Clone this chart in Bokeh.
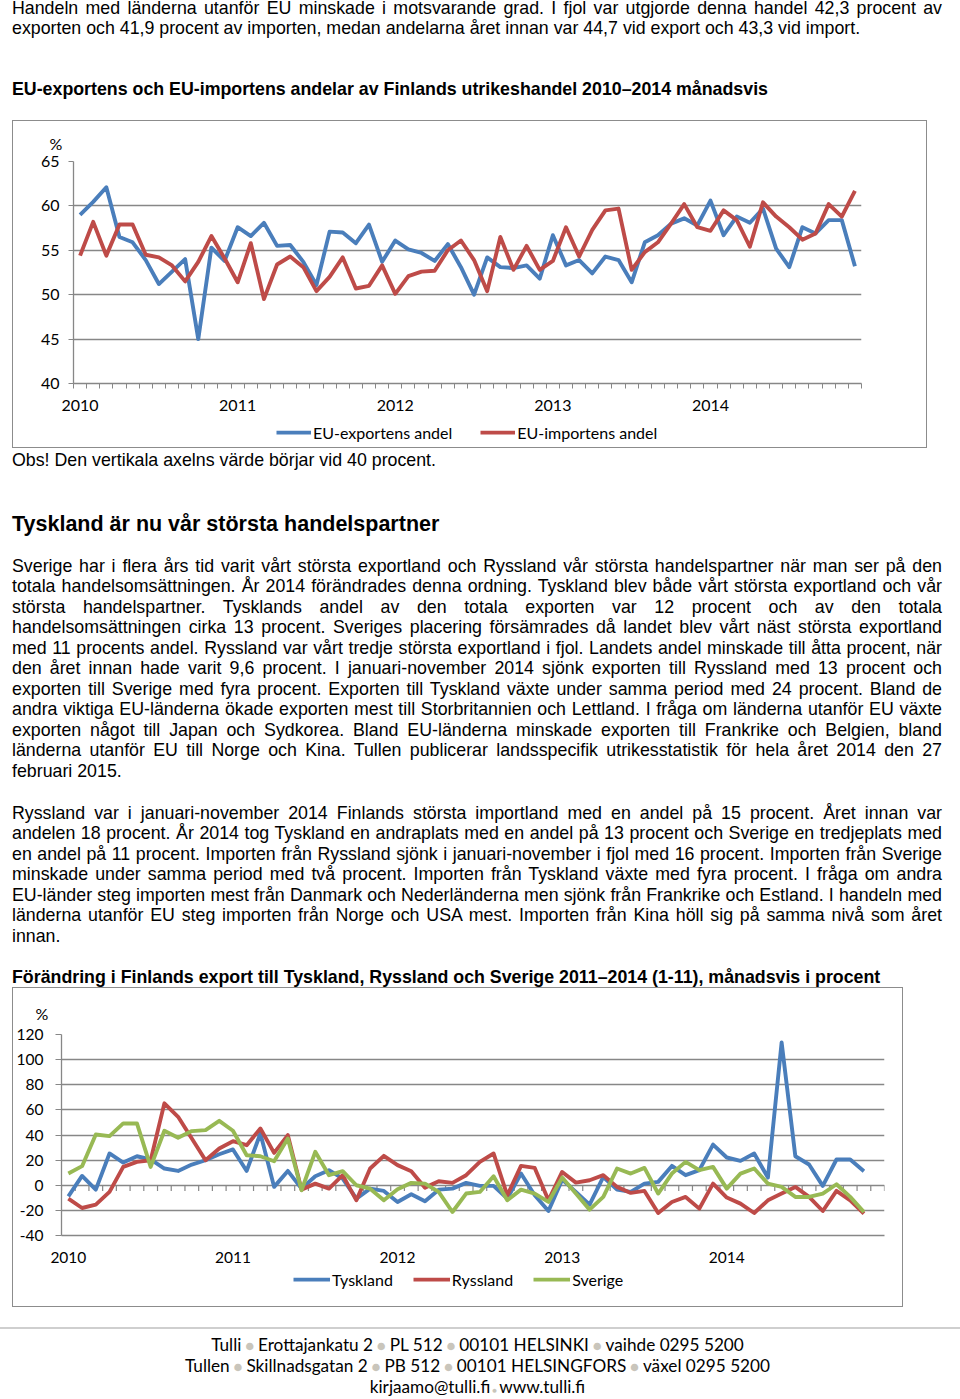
from bokeh.plotting import figure
from bokeh.models import Range1d, FixedTicker, Legend, LegendItem, Div
from bokeh.layouts import column
from bokeh.embed import file_html
from bokeh.resources import INLINE

# ---------------- data ----------------
years = ["2010", "2011", "2012", "2013", "2014"]
months1 = list(range(60))          # Jan 2010 .. Dec 2014
eu_export = [59.0, 60.45, 62.1, 56.5, 55.9, 53.9, 51.2, 52.6, 54.0, 45.0,
             55.3, 53.8, 57.6, 56.6, 58.1, 55.5, 55.6, 53.7, 51.1, 57.1,
             57.0, 55.8, 57.9, 53.7, 56.1, 55.1, 54.7, 53.8, 55.7, 53.1,
             50.0, 54.2, 53.1, 53.0, 53.3, 51.8, 56.7, 53.3, 53.9, 52.4,
             54.3, 53.9, 51.4, 55.9, 56.7, 58.0, 58.6, 57.8, 60.6, 56.7,
             58.8, 58.1, 59.7, 55.2, 53.1, 57.6, 56.9, 58.4, 58.4, 53.2]
eu_import = [54.4, 58.2, 54.4, 57.9, 57.9, 54.5, 54.2, 53.3, 51.5, 53.7,
             56.6, 54.1, 51.4, 55.8, 49.5, 53.4, 54.3, 53.1, 50.4, 52.0,
             54.2, 50.7, 51.0, 53.3, 50.1, 52.1, 52.6, 52.7, 55.0, 56.1,
             53.9, 50.4, 56.5, 52.8, 55.5, 52.8, 53.8, 57.6, 54.3, 57.3,
             59.5, 59.7, 52.8, 54.8, 55.9, 58.0, 60.2, 57.6, 57.2, 59.5,
             58.4, 55.4, 60.4, 58.8, 57.6, 56.2, 56.9, 60.2, 58.8, 61.7]

months2 = list(range(59))          # Jan 2010 .. Nov 2014
tyskland = [-8.8, 7.4, -3.5, 25.3, 18.1, 23.1, 20.5, 13.3, 11.4, 16.5,
            19.9, 24.7, 28.5, 11.4, 41.2, -1.3, 11.4, -2.7, 7.2, 12.0,
            5.3, -10.6, -2.7, -4.5, -13.3, -7.2, -12.8, -3.5, -2.7, 1.9,
            -0.5, -0.5, -10.6, 9.3, -8.0, -20.5, 4.5, -5.3, -15.4, 6.6,
            -3.5, -5.3, 1.3, 2.7, 15.4, 8.0, 12.0, 32.4, 22.1, 19.4,
            25.3, 6.1, 113.6, 23.1, 16.5, -0.5, 20.5, 20.5, 11.2]
ryssland = [-10.6, -18.1, -15.4, -5.3, 14.6, 18.6, 19.9, 65.2, 54.5, 37.2,
            19.9, 29.3, 35.1, 31.9, 45.2, 25.8, 39.9, -3.5, 1.3, -2.7,
            8.0, -12.0, 13.3, 23.4, 16.0, 11.2, -1.9, 3.2, 1.9, 8.0,
            18.6, 25.3, -8.0, 15.4, 13.8, -12.0, 10.6, 2.1, 4.0, 8.0,
            -1.3, -6.1, -4.5, -22.1, -13.3, -9.3, -18.6, 1.3, -9.8, -14.6,
            -22.1, -12.0, -6.6, -1.3, -9.3, -20.5, -4.5, -12.0, -22.6]
sverige = [9.3, 15.2, 40.4, 39.1, 49.2, 49.2, 14.6, 43.4, 37.8, 43.1,
           43.9, 51.3, 43.4, 23.9, 23.1, 19.1, 37.2, -4.0, 26.6, 8.0,
           11.2, 0.0, -2.7, -12.0, -3.2, 1.9, 1.3, -5.3, -21.3, -6.6,
           -5.3, 7.2, -12.0, -3.5, -6.6, -13.3, 6.1, -6.6, -19.4, -9.3,
           13.3, 9.3, 13.8, -6.6, 9.3, 18.6, 12.0, 14.6, -2.7, 9.3,
           13.3, 1.3, -1.3, -9.3, -9.3, -6.6, 0.8, -9.3, -21.3]

y1_ticks = [40, 45, 50, 55, 60, 65]
y2_ticks = [-40, -20, 0, 20, 40, 60, 80, 100, 120]
legend1 = ["EU-exportens andel", "EU-importens andel"]
legend2 = ["Tyskland", "Ryssland", "Sverige"]

top_lines = [
    "Handeln med länderna utanför EU minskade i motsvarande grad. I fjol var utgjorde denna handel 42,3 procent av",
    "exporten och 41,9 procent av importen, medan andelarna året innan var 44,7 vid export och 43,3 vid import.",
]
title1 = "EU-exportens och EU-importens andelar av Finlands utrikeshandel 2010–2014 månadsvis"
obs = "Obs! Den vertikala axelns värde börjar vid 40 procent."
heading = "Tyskland är nu vår största handelspartner"
para1 = [
    "Sverige har i flera års tid varit vårt största exportland och Ryssland vår största handelspartner när man ser på den",
    "totala handelsomsättningen. År 2014 förändrades denna ordning. Tyskland blev både vårt största exportland och vår",
    "största handelspartner. Tysklands andel av den totala exporten var 12 procent och av den totala",
    "handelsomsättningen cirka 13 procent. Sveriges placering försämrades då landet blev vårt näst största exportland",
    "med 11 procents andel. Ryssland var vårt tredje största exportland i fjol. Landets andel minskade till åtta procent, när",
    "den året innan hade varit 9,6 procent. I januari-november 2014 sjönk exporten till Ryssland med 13 procent och",
    "exporten till Sverige med fyra procent. Exporten till Tyskland växte under samma period med 24 procent. Bland de",
    "andra viktiga EU-länderna ökade exporten mest till Storbritannien och Lettland. I fråga om länderna utanför EU växte",
    "exporten något till Japan och Sydkorea. Bland EU-länderna minskade exporten till Frankrike och Belgien, bland",
    "länderna utanför EU till Norge och Kina. Tullen publicerar landsspecifik utrikesstatistik för hela året 2014 den 27",
    "februari 2015.",
]
para2 = [
    "Ryssland var i januari-november 2014 Finlands största importland med en andel på 15 procent. Året innan var",
    "andelen 18 procent. År 2014 tog Tyskland en andraplats med en andel på 13 procent och Sverige en tredjeplats med",
    "en andel på 11 procent. Importen från Ryssland sjönk i januari-november i fjol med 16 procent. Importen från Sverige",
    "minskade under samma period med två procent. Importen från Tyskland växte med fyra procent. I fråga om andra",
    "EU-länder steg importen mest från Danmark och Nederländerna men sjönk från Frankrike och Estland. I handeln med",
    "länderna utanför EU steg importen från Norge och USA mest. Importen från Kina höll sig på samma nivå som året",
    "innan.",
]
title2 = "Förändring i Finlands export till Tyskland, Ryssland och Sverige 2011–2014 (1-11), månadsvis i procent"
footer1 = ["Tulli", "Erottajankatu 2", "PL 512", "00101 HELSINKI", "vaihde 0295 5200"]
footer2 = ["Tullen", "Skillnadsgatan 2", "PB 512", "00101 HELSINGFORS", "växel 0295 5200"]
footer3 = ["kirjaamo@tulli.fi", "www.tulli.fi"]

BLUE = "#4a7ebb"
RED = "#be4b48"
GREEN = "#98b954"
GRID = "#878787"
BORDER = "1px solid #8c8c8c"
BODY_FONT = "'Liberation Sans', Arial, sans-serif"
BODY_SIZE = 17.8
LH = 20.5

# ---------------- html helpers ----------------
def line_div(text, top, justify, size=BODY_SIZE, bold=False, lh=LH):
    align = "justify" if justify else "left"
    weight = "bold" if bold else "normal"
    return (f'<div style="position:absolute;left:4px;top:{top}px;width:930px;height:{lh}px;'
            f'line-height:{lh}px;font-family:{BODY_FONT};font-size:{size}px;font-weight:{weight};'
            f'color:#000;white-space:nowrap;text-align:{align};text-align-last:{align};">{text}</div>')

def para_divs(lines, top0):
    out = []
    for i, t in enumerate(lines):
        out.append(line_div(t, top0 + i * LH, justify=(i < len(lines) - 1)))
    return "".join(out)

def wrap(inner, h):
    return f'<div style="position:relative;width:944px;height:{h}px;overflow:visible;">{inner}</div>'

def style_axis(ax, size):
    ax.major_label_text_font = "Lato"
    ax.major_label_text_font_size = size
    ax.major_label_text_color = "#000000"
    ax.axis_line_color = GRID
    ax.axis_line_width = 1.3
    ax.minor_tick_line_color = None

def pct_title(p, offset, standoff):
    p.title.text = "%"
    p.title.align = "left"
    p.title.offset = offset
    p.title.standoff = standoff
    p.title.text_font = "Lato"
    p.title.text_font_size = "16px"
    p.title.text_font_style = "normal"
    p.title.text_color = "#000"

def legend_strip(width, height, xs, series, labels, colors, borders, loc, spacing, gw):
    # the series are drawn here too, but outside this strip's visible y range;
    # only their legend entries show.
    q = figure(width=width, height=height, output_backend="svg", toolbar_location=None,
               x_range=Range1d(-0.5, 59.5), y_range=Range1d(1000, 1001),
               x_axis_location=None, y_axis_location=None,
               min_border_left=borders[0], min_border_right=borders[1],
               min_border_top=0, min_border_bottom=0)
    q.margin = (0, 0, 0, 4)
    q.styles = {"border-left": BORDER, "border-right": BORDER, "border-bottom": BORDER}
    q.grid.visible = False
    q.outline_line_color = None
    q.border_fill_color = "white"
    items = []
    for ys, lab, col in zip(series, labels, colors):
        r = q.line(xs, ys, line_color=col, line_width=3.75)
        items.append(LegendItem(label=lab, renderers=[r]))
    q.add_layout(Legend(items=items, orientation="horizontal", location=loc, spacing=spacing,
                        glyph_width=gw, glyph_height=20, label_height=20, label_standoff=2,
                        padding=0, margin=0, border_line_color=None, background_fill_alpha=0,
                        label_text_font="Lato", label_text_font_size="16px",
                        label_text_color="#000"), "center")
    return q

# ---------------- top div ----------------
divA_html = wrap(para_divs(top_lines, -10.25) + line_div(title1, 70.5, False, bold=True), 112)
divA = Div(text=divA_html, width=944, height=112, margin=0)

# ---------------- chart 1 ----------------
p1 = figure(width=915, height=300, output_backend="svg", toolbar_location=None,
            x_range=Range1d(-0.5, 59.5), y_range=Range1d(40, 65),
            min_border_left=60, min_border_right=67, min_border_top=40, min_border_bottom=38)
p1.margin = (0, 0, 0, 4)
p1.styles = {"border-left": BORDER, "border-right": BORDER, "border-top": BORDER}
p1.outline_line_color = None
p1.border_fill_color = "white"
pct_title(p1, -24, 17)

p1.line(months1, eu_export, line_color=BLUE, line_width=3.9, line_join="round")
p1.line(months1, eu_import, line_color=RED, line_width=3.9, line_join="round")

style_axis(p1.xaxis, "16px")
style_axis(p1.yaxis, "16px")
p1.xaxis.ticker = FixedTicker(ticks=[0, 12, 24, 36, 48], minor_ticks=[i - 0.5 for i in range(61)])
p1.xaxis.major_label_overrides = {0: years[0], 12: years[1], 24: years[2], 36: years[3], 48: years[4]}
p1.xaxis.major_tick_line_color = None
p1.xaxis.major_tick_out = 0
p1.xaxis.major_tick_in = 0
p1.xaxis.minor_tick_out = 5
p1.xaxis.minor_tick_in = 0
p1.xaxis.minor_tick_line_color = GRID
p1.xaxis.major_label_standoff = 11
p1.yaxis.ticker = FixedTicker(ticks=y1_ticks)
p1.yaxis.major_tick_out = 5
p1.yaxis.major_tick_in = 0
p1.yaxis.major_tick_line_color = GRID
p1.yaxis.major_label_standoff = 9
p1.xgrid.grid_line_color = None
p1.ygrid.ticker = FixedTicker(ticks=y1_ticks[1:])
p1.ygrid.grid_line_color = GRID
p1.ygrid.grid_line_width = 1.3

leg1 = legend_strip(915, 28, months1, [eu_export, eu_import], legend1, [BLUE, RED],
                    (60, 67), (203, 6), 28, 35)

# ---------------- middle div ----------------
mid = (line_div(obs, 1.75, False)
       + line_div(heading, 63.5, False, size=21.5, bold=True, lh=24)
       + para_divs(para1, 107.75)
       + para_divs(para2, 354.75)
       + line_div(title2, 518.5, False, bold=True))
divB = Div(text=wrap(mid, 539), width=944, height=539, margin=0)

# ---------------- chart 2 ----------------
p2 = figure(width=891, height=283, output_backend="svg", toolbar_location=None,
            x_range=Range1d(-0.5, 59.5), y_range=Range1d(-40, 120),
            min_border_left=45, min_border_right=20, min_border_top=46, min_border_bottom=36)
p2.margin = (0, 0, 0, 4)
p2.styles = {"border-left": BORDER, "border-right": BORDER, "border-top": BORDER}
p2.outline_line_color = None
p2.border_fill_color = "white"
pct_title(p2, -26, 24)

bounds = [i - 0.5 for i in range(61)]
p2.segment(x0=bounds, y0=[0] * len(bounds), x1=bounds, y1=[-4.5] * len(bounds),
           line_color=GRID, line_width=1.2)
p2.line(months2, tyskland, line_color=BLUE, line_width=3.9, line_join="round")
p2.line(months2, ryssland, line_color=RED, line_width=3.9, line_join="round")
p2.line(months2, sverige, line_color=GREEN, line_width=3.9, line_join="round")

style_axis(p2.xaxis, "15.5px")
style_axis(p2.yaxis, "15.5px")
p2.xaxis.ticker = FixedTicker(ticks=[0, 12, 24, 36, 48])
p2.xaxis.major_label_overrides = {0: years[0], 12: years[1], 24: years[2], 36: years[3], 48: years[4]}
p2.xaxis.major_tick_line_color = None
p2.xaxis.major_tick_out = 0
p2.xaxis.major_tick_in = 0
p2.xaxis.major_label_standoff = 16
p2.yaxis.ticker = FixedTicker(ticks=y2_ticks)
p2.yaxis.major_label_overrides = {-40: "-40", -20: "-20"}
p2.yaxis.major_tick_out = 6
p2.yaxis.major_tick_in = 0
p2.yaxis.major_tick_line_color = GRID
p2.yaxis.major_label_standoff = 12
p2.xgrid.grid_line_color = None
p2.ygrid.ticker = FixedTicker(ticks=y2_ticks)
p2.ygrid.grid_line_color = GRID
p2.ygrid.grid_line_width = 1.3

leg2 = legend_strip(891, 37, months2, [tyskland, ryssland, sverige], legend2, [BLUE, RED, GREEN],
                    (45, 20), (232, 18), 20, 37)

# ---------------- footer ----------------
DOT = '<span style="color:#c9c5bb;font-size:15px;">&nbsp;●&nbsp;</span>'
SDOT = '<span style="color:#c9c5bb;font-size:8px;">&nbsp;●&nbsp;</span>'
def fline(parts, top, sep):
    return (f'<div style="position:absolute;left:0px;top:{top}px;width:939px;height:21px;line-height:21px;'
            f'text-align:center;font-family:Lato, sans-serif;font-size:17.2px;color:#000;white-space:nowrap;">'
            f'{sep.join(parts)}</div>')
foot = ('<div style="position:absolute;left:-8px;top:20px;width:962px;height:2px;background:#cfcfcf;"></div>'
        + fline(footer1, 26.5, DOT) + fline(footer2, 47.5, DOT) + fline(footer3, 68.5, SDOT))
divC = Div(text=wrap(foot, 84), width=944, height=84, margin=0)

box1 = column(p1, leg1, spacing=0, margin=0)
box2 = column(p2, leg2, spacing=0, margin=0)
layout = column(divA, box1, divB, box2, divC, spacing=0, margin=(8, 8, 0, 8))

with open("out.html", "w", encoding="utf-8") as f:
    f.write(file_html(layout, INLINE))
